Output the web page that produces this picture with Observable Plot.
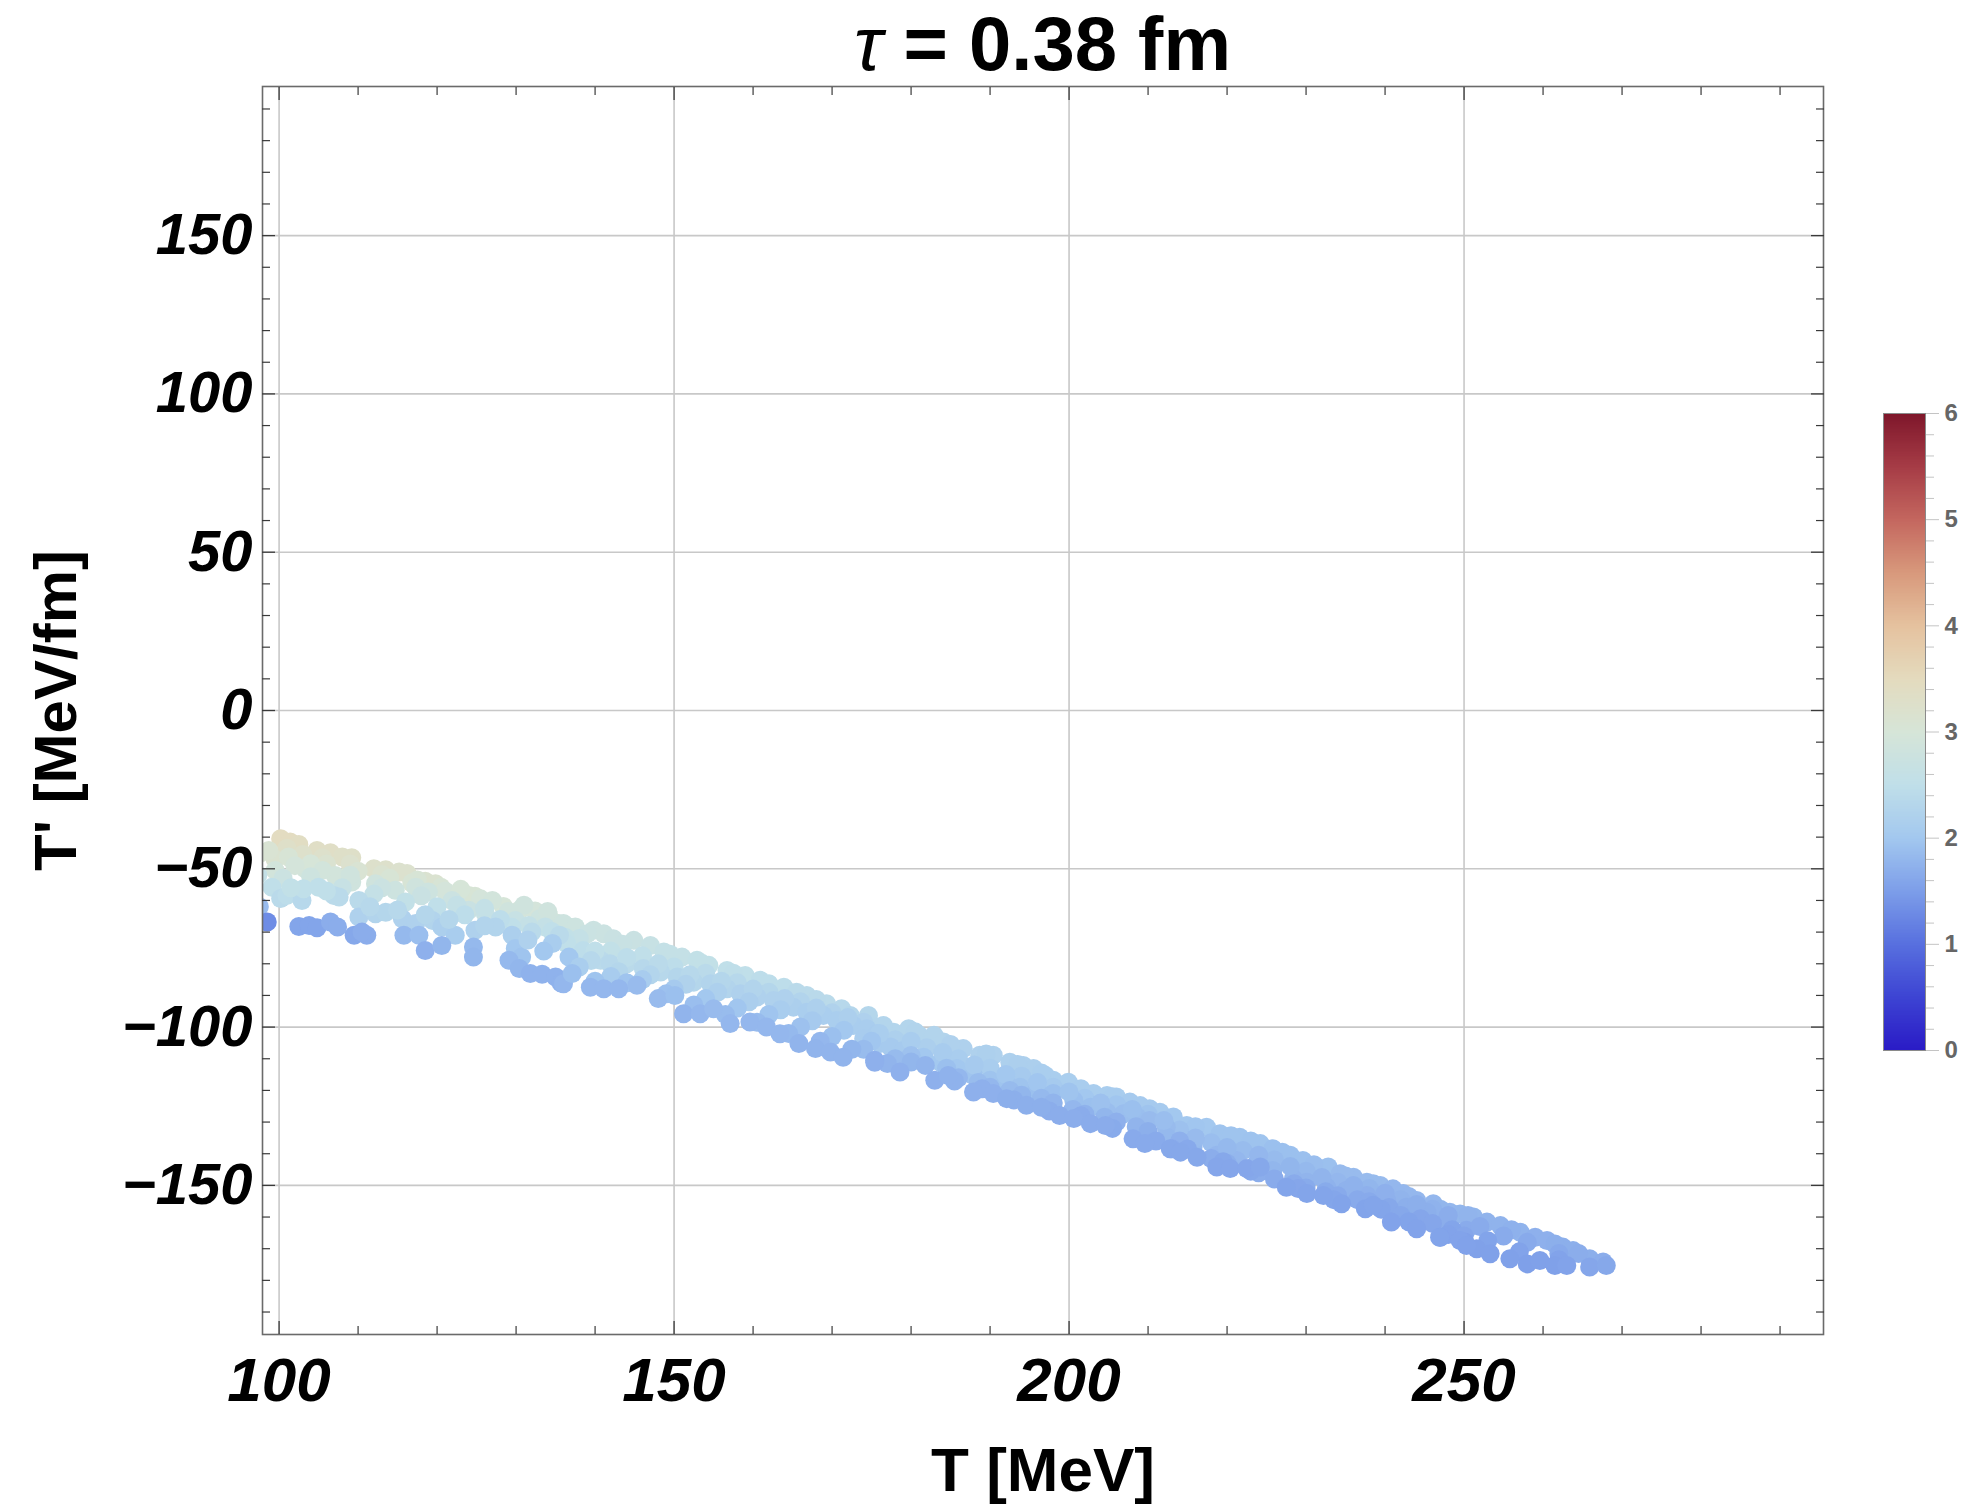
<!DOCTYPE html>
<html><head><meta charset="utf-8">
<script src="https://cdn.jsdelivr.net/npm/d3@7"></script>
<script src="https://cdn.jsdelivr.net/npm/@observablehq/plot@0.6"></script>
<style>
html,body{margin:0;padding:0;background:#fff;}
#page{position:relative;width:1964px;height:1508px;overflow:hidden;font-family:"Liberation Sans",Arial,sans-serif;background:#fff;}
#title{position:absolute;z-index:2;left:262px;width:1561px;top:6px;height:76px;line-height:76px;text-align:center;font-size:76px;font-weight:bold;color:#000;white-space:nowrap;}
#title .tau{font-style:italic;font-weight:normal;}
#main{position:absolute;z-index:1;left:0;top:70px;}
#cbar{position:absolute;z-index:1;left:1870px;top:397px;}
</style></head>
<body><div id="page"><div id="title"><span class="tau">τ</span> = 0.38 fm</div><div id="main"></div><div id="cbar"></div></div>
<script>
// ---- data: [T (MeV), T' (MeV/fm), colour value] ----
const rowTop = [[100.2,-40.5,3.45],[101.4,-41.5,3.45],[102.5,-42.3,3.4],[104.8,-44.2,3.35],[106.5,-44.9,3.35],[108.0,-46.3,3.3],[109.2,-46.5,3.3],[112.0,-50.0,3.25],[113.5,-50.3,3.25],[115.2,-51.0,3.2],[116.2,-51.5,3.2],[118.5,-53.9,3.15],[119.8,-54.7,3.15],[124.0,-58.4,3.05],[124.8,-58.7,3.05],[126.1,-61.0,3.0],[128.4,-61.9,3.0],[130.5,-62.9,2.95],[132.4,-63.3,2.95],[134.1,-64.4,2.9],[135.4,-67.3,2.85],[136.7,-68.4,2.8],
[136.0,-67.3,2.8],[137.5,-68.4,2.8],[139.8,-69.4,2.75],[141.1,-70.5,2.75],[142.3,-72.1,2.7],[144.9,-72.6,2.7],[147.0,-74.2,2.65],[148.7,-76.3,2.6],[151.0,-77.9,2.6],[152.9,-78.9,2.55],[154.4,-80.5,2.55],[156.7,-82.1,2.5],[159.0,-83.7,2.5],[160.9,-85.2,2.45],[163.9,-87.4,2.45],[166.8,-90.0,2.4],[169.3,-92.6,2.4],[171.2,-94.2,2.35],[172.3,-96.3,2.3],[174.6,-96.3,2.3],
[175.7,-100.0,2.28],[177.8,-101.6,2.28],[179.7,-100.5,2.28],[181.0,-102.6,2.25],[182.9,-102.6,2.25],[184.1,-104.7,2.25],[186.6,-106.8,2.2],[188.7,-108.9,2.2],[190.4,-108.9,2.2],[192.5,-111.1,2.18],[194.2,-112.1,2.18],[195.5,-113.1,2.15],[197.0,-115.3,2.12],[198.0,-116.8,2.12],[199.9,-117.4,2.12],[203.1,-121.0,2.1],[204.8,-121.6,2.1],[206.0,-122.1,2.1],[207.7,-123.7,2.05],[210.2,-125.8,2.05],[211.5,-126.9,2.05],[213.2,-128.4,2.0],
[214.9,-131.1,2.0],[217.4,-131.6,2.0],[219.1,-133.7,1.95],[221.6,-134.8,1.95],[224.2,-136.8,1.95],[225.8,-138.4,1.9],[228.0,-140.5,1.9],[229.6,-142.1,1.9],[231.8,-144.7,1.9],[232.8,-144.2,1.9],[234.3,-146.3,1.85],[236.0,-147.4,1.85],[237.7,-149.0,1.85],[239.4,-150.0,1.85],[241.0,-151.1,1.8],[242.3,-152.6,1.8],[244.0,-154.8,1.8],[246.1,-155.8,1.8],
[248.2,-158.5,1.8],[249.5,-159.0,1.78],[251.2,-160.0,1.78],[252.9,-161.6,1.75],[254.6,-162.7,1.75],[257.1,-164.8,1.75],[259.0,-166.4,1.72],[260.5,-167.4,1.72],[262.5,-169.5,1.7],[263.8,-170.6,1.7],[265.9,-173.2,1.7],[267.6,-174.2,1.68]];

const rowTopFill = [[101,-43.5,3.3],[105.5,-46.5,3.25],[109,-48.5,3.2],[113,-51.8,3.15],[116.8,-54.5,3.05],[120.5,-55.8,3.05],[122.5,-58.5,2.95],[125.5,-59.5,2.95],[129,-63.5,2.85],[133,-65.8,2.8],
[139,-70.5,2.72],[143.5,-73.8,2.68],[149.5,-77,2.6],[153.5,-79.8,2.55],[157.5,-83,2.48],[162,-86.3,2.45],[165.5,-89,2.4],[168,-91.3,2.38],[176.5,-99.5,2.28],[180.5,-101.5,2.25],[185,-105.5,2.2],[189.5,-108.5,2.18],[193.5,-111.8,2.15],[196.5,-114.5,2.12],[201.5,-119.5,2.1],[205.5,-122,2.08],[209,-124.8,2.05],[216,-131.5,1.98],[220.5,-134.3,1.95],[223,-136,1.94],[227,-139.5,1.9],[231,-143.5,1.88],[235,-147,1.85],[238.5,-149.5,1.84],[243,-153.5,1.8],[247,-157.5,1.78],[250.5,-159.5,1.76],[256,-164,1.73],[261.5,-168.5,1.7],[264.5,-171.5,1.68]];

const rowLeftFill1 = [[97.6,-45,3.1],[99.5,-47,3.15],[103,-45.5,3.25],[106,-48.5,3.15],[110,-50.8,3.1],[114,-53,3.05],[117.5,-53.5,3.05],[121,-57,2.95],[123,-56.5,3.0],[127,-60,2.9],[131,-61.5,2.85],[134,-63.5,2.85]];

const rowUpperFill = [[138,-72,2.6],[142,-76,2.55],[146,-77.5,2.5],[150,-81,2.45],[154,-83,2.4],[158,-86,2.35],[162,-89,2.3],[166,-92,2.25],[170,-95.5,2.22],[174,-98.5,2.2],[178,-104,2.18],[182,-106.5,2.15],[186,-110,2.1],[190,-113,2.1],[194,-115.5,2.05],[198,-119,2.05],[202,-122.5,2.0],[206,-124.5,1.98],[210,-127.5,1.95],[214,-132.5,1.92],[218,-136.5,1.88],[222,-139,1.86],[226,-142,1.84],[230,-145.5,1.82],[234,-149,1.8],[238,-151,1.78],[242,-154.5,1.76],[246,-157.5,1.74],[255,-166,1.66],[262,-171.5,1.63]];

const rowSecond = [[98.7,-44.2,3.1],[99.5,-50.5,2.9],[101.2,-46.3,3.05],[103.3,-50.0,2.9],[104.0,-48.4,3.0],[107.1,-52.1,2.9],[109.2,-54.2,2.85],[112.2,-54.7,2.85],[114.7,-56.8,2.8],[117.3,-55.8,2.85],[118.9,-57.3,2.8],[121.9,-60.0,2.75],[124.0,-63.1,2.7],[126.1,-64.2,2.65],[129.9,-66.3,2.65],[131.6,-67.9,2.6],[133.7,-68.4,2.6],[136.2,-71.6,2.55],
[136.4,-73.6,2.5],[138.5,-75.8,2.45],[140.7,-78.9,2.4],[141.9,-80.0,2.35],[144.0,-80.0,2.4],[146.1,-81.5,2.35],[148.3,-82.6,2.35],[150.4,-84.2,2.3],[152.5,-85.8,2.3],[154.6,-86.3,2.25],[156.7,-87.9,2.25],[158.4,-89.5,2.2],[160.5,-90.5,2.2],[162.6,-91.6,2.2],[165.1,-93.7,2.15],[166.8,-95.3,2.12],[168.9,-96.3,2.12],[170.6,-97.9,2.12],[172.7,-99.5,2.1],[174.4,-100.5,2.1],[175.7,-102.1,2.08],
[174.0,-103.7,2.08],[176.1,-105.2,2.05],[177.4,-106.3,2.05],[179.0,-107.4,2.05],[181.6,-109.5,2.0],[183.7,-111.1,2.0],[185.8,-113.1,2.0],[187.9,-115.3,1.95],[190.0,-116.8,1.95],[192.1,-117.9,1.95],[193.8,-119.0,1.95],[195.9,-120.0,1.9],[198.0,-121.0,1.9],[200.6,-123.2,1.9],[202.7,-125.3,1.9],[204.8,-126.9,1.88],[206.9,-127.4,1.88],[208.6,-128.4,1.88],[210.2,-129.5,1.85],[212.3,-131.6,1.85],
[212.4,-134.8,1.82],[215.7,-137.9,1.82],[218.7,-140.5,1.8],[221.2,-142.1,1.8],[223.7,-143.2,1.78],[225.8,-145.3,1.78],[228.4,-147.9,1.76],[230.1,-149.0,1.76],[232.6,-150.6,1.74],[235.1,-151.6,1.74],[237.7,-153.2,1.72],[240.2,-154.8,1.72],[242.7,-156.9,1.7],[245.3,-158.5,1.7],[247.8,-161.1,1.68],[250.3,-164.2,1.66]];

const rowSecondFill = [[102,-49,2.95],[105.5,-50.5,2.9],[109,-52,2.85],[113,-56,2.75],[118,-58.5,2.7],[122.5,-61.5,2.6],[126,-62.5,2.6],[129.5,-68.5,2.5],[134.5,-69.8,2.5],
[140,-76,2.5],[144,-78,2.45],[148,-80,2.4],[152,-83.5,2.35],[156,-85.5,2.3],[160,-88,2.25],[164,-91,2.2],[168,-94,2.18],[172,-97,2.15],[176,-102,2.12],[180,-104.5,2.1],[184,-108,2.08],[188,-112,2.05],[192,-115,2.0],[196,-117.5,1.98],[200,-120.5,1.95],[204,-124,1.92],[208,-126,1.9],[212,-129.5,1.88],[216,-135,1.85],[220,-138,1.82],[224,-140.5,1.8],[228,-144,1.78],[232,-147.5,1.76],[236,-150,1.74],[240,-152.5,1.72],[244,-156,1.7],[248,-159.5,1.68],[252,-163,1.66],[258,-168,1.64]];

const rowLeftFill2 = [[97.3,-52,2.6],[100.5,-53,2.75],[104,-52.5,2.8],[108,-56,2.65],[112,-58,2.6],[116,-60.5,2.55],[120,-62,2.5],[123.5,-64.5,2.45],[128,-66,2.45],[132,-70,2.4],[135.5,-71,2.4]];

const rowThird = [[99.1,-55.8,2.5],[100.2,-59.4,2.4],[101.0,-58.4,2.45],[102.9,-60.0,2.35],[103.1,-56.3,2.5],[105.0,-55.8,2.5],[106.9,-58.4,2.4],[107.6,-58.9,2.4],[110.1,-60.0,2.4],[110.1,-65.2,2.2],[112.2,-64.2,2.25],[113.5,-63.7,2.3],[115.6,-65.8,2.2],[117.3,-67.3,2.2],[119.4,-66.3,2.25],[120.6,-68.4,2.15],[122.3,-71.0,2.1],[124.8,-69.4,2.2],[127.4,-68.4,2.25],[129.5,-71.0,2.15],[129.9,-75.2,2.0],[130.7,-77.9,1.95],[134.6,-73.6,2.1],[136.7,-77.9,2.0],
[101.5,-56,2.55],[106,-57,2.5],[111.5,-62,2.35],[115,-63,2.35],[118.5,-64.5,2.3],[121.5,-66,2.3],[126,-68,2.25],[131.5,-72.5,2.2],[133.5,-76,2.0]];

const rowThirdFill = [[139.5,-79,2.35],[143,-82.5,2.3],[147,-83.5,2.28],[151.5,-86.5,2.22],[155.5,-89,2.18],[159.5,-92,2.14],[163.5,-94.5,2.1],[167.5,-98,2.05],[171.5,-101,2.0],[175,-104.5,1.98],[180,-109,1.92],[184.5,-113,1.9],[188.5,-117.5,1.86],[192.5,-120,1.84],[196.5,-122.5,1.82],[200.5,-126,1.8],[204.5,-128.5,1.78],[208.5,-131.5,1.76],[214,-136,1.72],[220,-143,1.7],[224,-146,1.68],[228.5,-149.5,1.66],[232.5,-152,1.65],[236.5,-154.5,1.64],[240.5,-157,1.62],[244.5,-160.5,1.6],[248.5,-164,1.58],[253,-167.5,1.57],[257,-171,1.56],[262,-173.5,1.56]];

const rowLowerFill = [[138,-81,2.12],[142,-84,2.08],[146,-85,2.08],[150,-88,2.05],[154,-91,2.0],[158,-94,1.98],[162,-96,1.96],[166,-100,1.92],[170,-103,1.9],[174,-107,1.86],[178,-110,1.84],[186,-116,1.8],[190,-119,1.8],[194,-121.5,1.78],[198,-124,1.76],[202,-127.5,1.74],[206,-130,1.72],[210,-133,1.7],[218,-141.5,1.68],[226,-148,1.66],[230,-150.8,1.65],[234,-153.3,1.64],[238,-155.2,1.64],[242,-159.5,1.62],[246,-162,1.6],[250,-166,1.6],
[140,-85.5,1.95],[144,-86,1.95],[149,-89.5,1.92],[152.5,-93,1.88],[156.5,-96,1.86],[160.5,-98.5,1.84],[164.5,-102,1.82],[168.5,-104.5,1.8],[172.5,-107,1.78],[177,-111.5,1.76],[180,-111,1.78],[185.5,-117,1.74],[189,-119.5,1.72],[193,-123,1.7],[197.5,-126.5,1.68],[201.5,-128,1.67],[205.5,-132,1.65],[211,-136,1.64],[215,-138.5,1.63],[219.5,-142.5,1.62],[223,-145.5,1.62],[229,-151,1.6],[233.5,-154.5,1.59],[239.5,-157.5,1.58],[243,-161.5,1.57],[248,-165.5,1.56]];

const rowBottom = [[97.5,-62,1.85],[98.5,-66.8,1.3],[102.5,-68.2,1.58],[103.8,-67.9,1.58],[104.8,-68.6,1.58],[106.5,-66.8,1.68],[107.4,-68.4,1.68],[109.5,-71.0,1.62],[111.1,-71.0,1.68],[110.5,-70.0,1.68],[115.8,-71.0,1.82],[117.7,-71.0,1.88],[118.5,-75.8,1.72],[120.6,-74.2,1.78],[124.6,-74.7,1.82],[124.6,-77.9,1.78],[129.1,-78.9,1.82],[130.4,-81.5,1.78],[131.8,-83.1,1.74],[133.3,-83.3,1.74],[135.0,-84.2,1.74],[135.7,-86.1,1.74],
[136.0,-86.3,1.8],[137.1,-83.1,1.9],[139.4,-87.4,1.8],[141.1,-87.9,1.8],[143.0,-87.9,1.8],[145.3,-86.8,1.85],[148.0,-91.0,1.85],[150.1,-90.0,1.9],[151.2,-95.8,1.76],[153.3,-95.8,1.8],[155.0,-94.2,1.85],[157.1,-98.9,1.8],[159.6,-98.4,1.8],[161.7,-100.0,1.8],[163.4,-102.1,1.8],[165.8,-105.2,1.76],[167.9,-106.8,1.76],[169.8,-107.9,1.76],[171.4,-109.5,1.76],[175.4,-110.5,1.72],
[175.4,-111.1,1.72],[178.6,-114.2,1.72],[181.8,-112.1,1.76],[183.0,-116.8,1.72],[184.7,-115.3,1.74],[187.9,-120.5,1.72],[190.4,-121.0,1.72],[192.1,-122.6,1.7],[194.6,-124.7,1.7],[196.5,-125.3,1.7],[198.8,-127.9,1.68],[200.6,-128.9,1.68],[202.7,-130.5,1.67],[204.6,-131.1,1.67],[208.1,-135.3,1.64],[209.6,-136.8,1.64],[213.0,-138.4,1.64],
[212.8,-138.4,1.62],[214.1,-139.5,1.62],[216.2,-141.1,1.62],[218.7,-144.2,1.6],[220.4,-144.7,1.6],[222.5,-144.7,1.6],[224.2,-144.2,1.62],[227.5,-150.6,1.58],[230.1,-152.6,1.58],[232.2,-153.2,1.58],[234.5,-155.8,1.57],[237.5,-157.4,1.57],[238.5,-156.3,1.58],[240.8,-161.6,1.56],[244.0,-163.7,1.56],[247.0,-166.4,1.55],[250.1,-167.9,1.54],[251.6,-170.0,1.54],
[246.9,-166.4,1.57],[249.5,-167.4,1.56],[250.3,-169.0,1.55],[253.3,-171.6,1.54],[255.8,-173.2,1.54],[258.0,-174.8,1.52],[259.6,-173.7,1.54],[261.5,-175.3,1.54],[263.0,-175.3,1.56],[265.9,-175.8,1.6],[268.0,-175.3,1.62]];

// ---- axes / ticks ----
const majorX = [100, 150, 200, 250];
const minorX = [110,120,130,140,160,170,180,190,210,220,230,240,260,270,280,290];
const majorY = [-150, -100, -50, 0, 50, 100, 150];
const minorY = [-190,-180,-170,-160,-140,-130,-120,-110,-90,-80,-70,-60,-40,-30,-20,-10,10,20,30,40,60,70,80,90,110,120,130,140,160,170,180,190];
const xDomain = [97.9, 295.5];
const yDomain = [-197.1, 197.1];

// ---- colour bar ----
const cbStops = [0, 0.5, 1, 1.5, 2, 2.5, 3, 3.5, 4, 4.5, 5, 5.5, 6];
const cbColors = ["#2a1bc6","#3d44d3","#5870df","#7d9ee9","#a3c8ef","#c0dfe9","#d6e5d8","#e4dbbe","#e5c29f","#d8997c","#c4675f","#a63c46","#7f172b"];
const cbMajor = [0, 1, 2, 3, 4, 5, 6];
const cbMinor = [0.2,0.4,0.6,0.8,1.2,1.4,1.6,1.8,2.2,2.4,2.6,2.8,3.2,3.4,3.6,3.8,4.2,4.4,4.6,4.8,5.2,5.4,5.6,5.8];

const points = [rowTop, rowTopFill, rowLeftFill1, rowUpperFill, rowSecond, rowSecondFill, rowLeftFill2, rowThird, rowThirdFill, rowLowerFill, rowBottom]
  .flat().map(([T, Tp, c]) => ({T, Tp, c}));

const colorScale = {type: "linear", domain: cbStops, range: cbColors, clamp: true};
const font = "'Liberation Sans', Arial, sans-serif";
const tickStroke = "#3a3a3a";

const chart = Plot.plot({
  width: 1964, height: 1438,
  marginTop: 16, marginBottom: 174, marginLeft: 262, marginRight: 141,
  style: {fontFamily: font, background: "transparent", color: "black"},
  x: {domain: xDomain},
  y: {domain: yDomain},
  color: colorScale,
  marks: [
    Plot.gridX(majorX, {stroke: "#c8c8c8", strokeOpacity: 1, strokeWidth: 1.6}),
    Plot.gridY(majorY, {stroke: "#c8c8c8", strokeOpacity: 1, strokeWidth: 1.6}),
    Plot.dot(points, {x: "T", y: "Tp", fill: "c", r: 9.5, clip: true}),
    Plot.frame({stroke: "#6a6a6a", strokeWidth: 1.6}),
    // inward ticks on all four sides
    Plot.axisX(majorX, {anchor: "bottom", tickSize: 13, dy: -13, stroke: tickStroke, strokeWidth: 1.3, fill: "none", label: null}),
    Plot.axisX(minorX, {anchor: "bottom", tickSize: 8, dy: -8, stroke: tickStroke, strokeWidth: 1.2, fill: "none", label: null}),
    Plot.axisX(majorX, {anchor: "top", tickSize: 13, dy: 13, stroke: tickStroke, strokeWidth: 1.3, fill: "none", label: null}),
    Plot.axisX(minorX, {anchor: "top", tickSize: 8, dy: 8, stroke: tickStroke, strokeWidth: 1.2, fill: "none", label: null}),
    Plot.axisY(majorY, {anchor: "left", tickSize: 13, dx: 13, stroke: tickStroke, strokeWidth: 1.3, fill: "none", label: null}),
    Plot.axisY(minorY, {anchor: "left", tickSize: 8, dx: 8, stroke: tickStroke, strokeWidth: 1.2, fill: "none", label: null}),
    Plot.axisY(majorY, {anchor: "right", tickSize: 13, dx: -13, stroke: tickStroke, strokeWidth: 1.3, fill: "none", label: null}),
    Plot.axisY(minorY, {anchor: "right", tickSize: 8, dx: -8, stroke: tickStroke, strokeWidth: 1.2, fill: "none", label: null}),
    // tick labels
    Plot.axisX(majorX, {anchor: "bottom", tickSize: 0, tickPadding: 22, fontSize: 62, fontWeight: "bold", fontStyle: "italic", fill: "black", label: null}),
    Plot.axisY(majorY, {anchor: "left", tickSize: 0, tickPadding: 10, fontSize: 58, fontWeight: "bold", fontStyle: "italic", fill: "black", label: null}),
    // axis titles
    Plot.text(["T [MeV]"], {text: d => d, frameAnchor: "bottom", lineAnchor: "bottom", textAnchor: "middle", dy: 156, fontSize: 62, fontWeight: "bold", fill: "black"}),
    Plot.text(["T' [MeV/fm]"], {text: d => d, frameAnchor: "left", rotate: -90, lineAnchor: "bottom", textAnchor: "middle", dx: -187, fontSize: 60, fontWeight: "bold", fill: "black"})
  ]
});
document.getElementById("main").appendChild(chart);

const cbar = Plot.plot({
  width: 94, height: 679,
  marginTop: 16, marginBottom: 26, marginLeft: 13, marginRight: 39,
  style: {fontFamily: font, background: "transparent"},
  x: {domain: [0, 1], axis: null},
  y: {domain: [0, 6]},
  color: colorScale,
  marks: [
    Plot.raster({x1: 0, x2: 1, y1: 0, y2: 6, width: 2, height: 400, fill: (x, y) => y}),
    Plot.frame({stroke: "#8a8a8a", strokeWidth: 1}),
    Plot.axisY(cbMinor, {anchor: "right", tickSize: 8, stroke: "#c4c4c4", fill: "none", label: null}),
    Plot.axisY(cbMajor, {anchor: "right", tickSize: 13, tickPadding: 6, tickFormat: d => String(d), stroke: "#c4c4c4", fill: "#666666", fontSize: 24, fontWeight: "bold", label: null})
  ]
});
document.getElementById("cbar").appendChild(cbar);
</script>
</body></html>
